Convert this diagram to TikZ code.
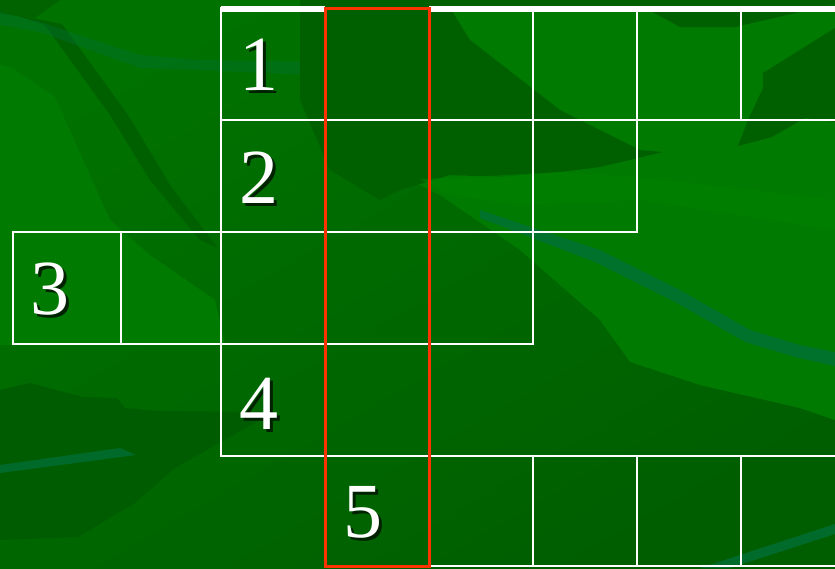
\documentclass[tikz,border=0pt]{standalone}
\usepackage{fontspec}
\setmainfont{Liberation Serif}
\definecolor{bgA}{HTML}{007200}
\definecolor{bgB}{HTML}{005E00}
\definecolor{bgL}{HTML}{007A00}
\definecolor{bgLL}{HTML}{008200}
\definecolor{bgD}{HTML}{006000}
\definecolor{bgDD}{HTML}{005C00}
\definecolor{bgT}{HTML}{00703A}
\definecolor{redline}{HTML}{FF3300}
\definecolor{shadowc}{HTML}{002200}
\tikzset{
  gridline/.style={draw=white, line width=2pt},
  topline/.style={draw=white, line width=6pt},
  redcol/.style={draw=redline, line width=3pt},
  num/.style={text=white, font=\fontsize{78}{80}\selectfont, inner sep=0pt},
}
\newcommand{\shnum}[1]{\rlap{\kern3pt\raisebox{-3pt}{\textcolor{shadowc}{#1}}}#1}
\begin{document}
\begin{tikzpicture}[x=1pt,y=-1pt]
\useasboundingbox (0,0) rectangle (835,568);
% background
\shade[top color=bgA, bottom color=bgB, shading angle=30] (0,0) rectangle (835,568);
\fill[bgL] (0,65) -- (12,68) -- (55,97) -- (110,220) -- (150,255) -- (215,300) -- (225,345) -- (0,345) -- cycle;
\fill[bgD] (15,15) -- (45,25) -- (110,115) -- (150,180) -- (200,240) -- (218,248) -- (172,188) -- (128,115) -- (62,24) -- cycle;
\fill[bgD, opacity=0.8] (0,0) -- (60,0) -- (35,18) -- (0,14) -- cycle;
\fill[bgT, opacity=0.35] (0,12) -- (40,22) -- (140,55) -- (200,60) -- (330,62) -- (420,92) -- (520,115) -- (580,132) -- (570,140) -- (510,126) -- (420,106) -- (330,76) -- (200,70) -- (140,68) -- (40,32) -- (0,25) -- cycle;
\fill[bgL] (450,8) -- (835,8) -- (835,420) -- (800,408) -- (700,385) -- (630,362) -- (600,320) -- (520,250) -- (440,195) -- (410,180) -- cycle;
\fill[bgD] (300,0) -- (835,0) -- (835,4) -- (735,27) -- (680,27) -- (645,8) -- (450,8) -- (470,40) -- (560,110) -- (640,150) -- (663,152) -- (600,167) -- (560,172) -- (500,177) -- (450,175) -- (400,190) -- (380,200) -- (330,170) -- (300,100) -- cycle;
\fill[bgD] (763,73) -- (835,28) -- (835,122) -- (805,118) -- (772,137) -- (738,146) -- (748,120) -- (763,88) -- cycle;
\fill[bgLL, opacity=0.6] (420,179) -- (470,177) -- (560,172) -- (650,178) -- (835,200) -- (835,230) -- (640,200) -- (520,205) -- (450,195) -- cycle;
\fill[bgT, opacity=0.75] (480,210) -- (600,250) -- (680,290) -- (750,330) -- (800,345) -- (835,352) -- (835,366) -- (795,357) -- (745,342) -- (675,302) -- (595,262) -- (480,218) -- cycle;
\fill[bgDD] (0,390) -- (30,383) -- (83,397) -- (117,398) -- (125,408) -- (160,411) -- (250,412) -- (260,420) -- (175,468) -- (135,503) -- (78,537) -- (0,540) -- cycle;
\fill[bgT, opacity=0.75] (0,465) -- (120,448) -- (136,455) -- (0,473) -- cycle;
\fill[bgT, opacity=0.75] (700,568) -- (835,524) -- (835,534) -- (730,568) -- cycle;
% grid row 1
\draw[gridline] (221,8) rectangle (325,120);
\draw[gridline] (429,8) rectangle (533,120);
\draw[gridline] (533,8) rectangle (637,120);
\draw[gridline] (637,8) rectangle (741,120);
\draw[gridline] (741,8) rectangle (845,120);
% row 2
\draw[gridline] (221,120) rectangle (325,232);
\draw[gridline] (429,120) rectangle (533,232);
\draw[gridline] (533,120) rectangle (637,232);
% row 3
\draw[gridline] (13,232) rectangle (121,344);
\draw[gridline] (121,232) rectangle (221,344);
\draw[gridline] (221,232) rectangle (325,344);
\draw[gridline] (429,232) rectangle (533,344);
% row 4
\draw[gridline] (221,344) rectangle (325,456);
% row 5
\draw[gridline] (429,456) rectangle (533,566);
\draw[gridline] (533,456) rectangle (637,566);
\draw[gridline] (637,456) rectangle (741,566);
\draw[gridline] (741,456) rectangle (845,566);
% lines through the red column
\draw[gridline] (325,120) -- (429,120);
\draw[gridline] (325,232) -- (429,232);
\draw[gridline] (325,344) -- (429,344);
\draw[gridline] (325,456) -- (429,456);
% thick top line
\draw[topline] (221,9) -- (325,9);
\draw[topline] (429,9) -- (835,9);
% red column
\draw[redcol] (325,8) rectangle (429,566);
% numbers
\node[num] (n1) at (259,66) {\shnum{1}};
\node[num] (n2) at (259,179) {\shnum{2}};
\node[num] (n3) at (50,291) {\shnum{3}};
\node[num] (n4) at (259,405) {\shnum{4}};
\node[num] (n5) at (363,514) {\shnum{5}};
\end{tikzpicture}
\end{document}
